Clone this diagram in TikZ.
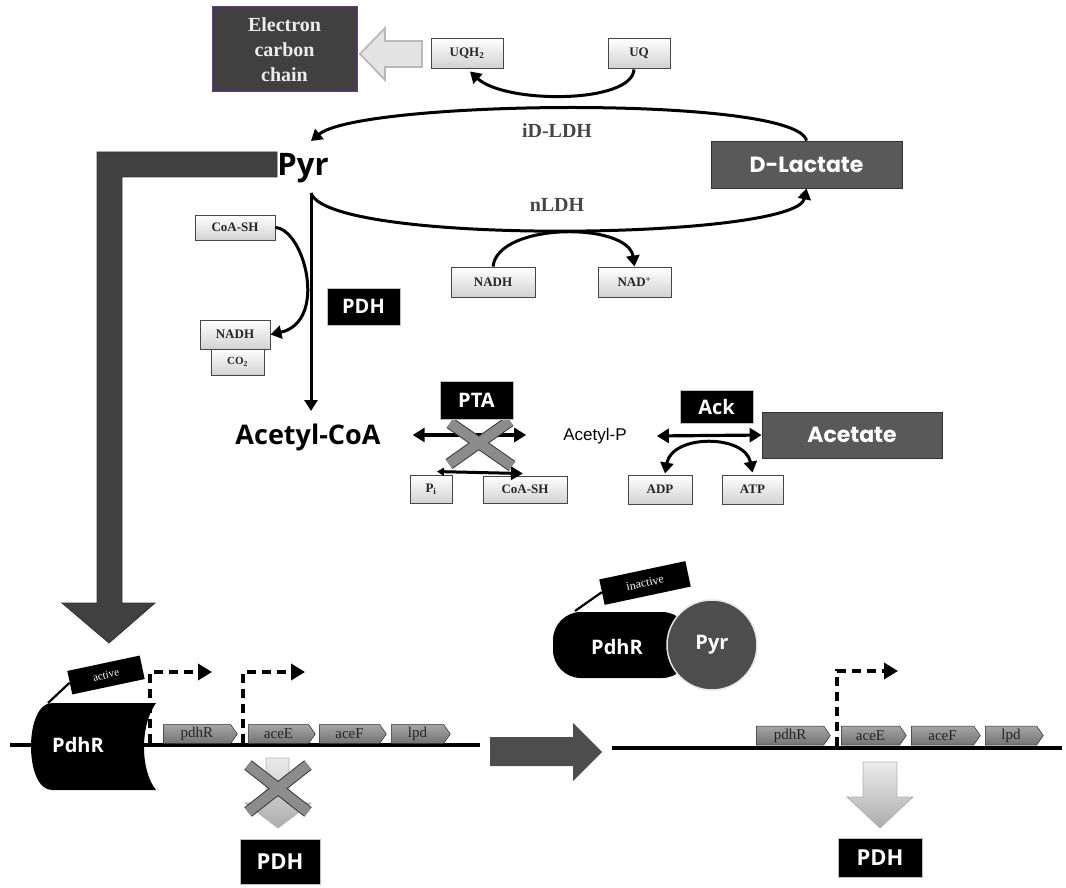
\documentclass[tikz,border=0pt]{standalone}
\usepackage{fontspec}
\setmainfont{Liberation Serif}
\newfontfamily\osans{Open Sans}
\newfontfamily\lsans{Liberation Sans}
\newfontfamily\geo{Poppins}
\usetikzlibrary{arrows.meta,shapes.symbols,shadows,calc}
\definecolor{dk}{HTML}{404040}
\definecolor{md}{HTML}{595959}
\definecolor{mc}{HTML}{4D4D4D}
\definecolor{xg}{HTML}{8C8C8C}
\definecolor{pu}{HTML}{7030A0}
\newcommand{\fsz}[2]{\fontsize{#1}{#2}\selectfont}
\begin{document}
\begin{tikzpicture}[x=1pt,y=-1pt,
 sbox/.style={draw=gray!55!black, line width=0.9, top color=white, bottom color=gray!35, inner sep=0, font=\fsz{13}{15}\bfseries, text=black!85, drop shadow={opacity=0.25, shadow xshift=1pt, shadow yshift=-1pt}},
 enz/.style={fill=black, draw=gray!50, line width=0.6, text=white, inner sep=0, font=\osans\bfseries\fsz{20}{22}},
 met/.style={fill=md, draw=gray!40!black, line width=0.8, text=white, inner sep=0, font=\geo\bfseries\fsz{22}{24}},
 gene/.style={shape=signal, signal to=east, signal pointer angle=110, top color=black!35, bottom color=black!55, draw=gray!35!black, line width=0.5, inner sep=0, minimum height=19, font=\fsz{15}{16}, text=black!85},
 rx/.style={line width=3, -{Triangle[length=11,width=13]}},
 dbl/.style={line width=3.2, {Triangle[length=12,width=14]}-{Triangle[length=12,width=14]}},
 prom/.style={line width=4.2, dash pattern=on 9 off 6, -{Triangle[length=14,width=16]}},
 lab/.style={font=\bfseries\fsz{20}{22}, text=black!72, inner sep=0},
 tag/.style={fill=black, rotate=12, text=white, inner sep=0},
 xbar/.style={line width=12, draw=gray!45!black},
 xbarin/.style={line width=10, draw=xg},
 fatdown/.style={top color=gray!15, bottom color=gray!65, draw=gray!60, line width=0.8},
]
\useasboundingbox (0,0) rectangle (1066,888);

% big L arrow
\draw[fill=dk, draw=black!80, line width=0.8] (277,152) -- (97,152) -- (97,603) -- (62,603) -- (109,643) -- (155,603) -- (122,603) -- (122,177) -- (277,177) -- cycle;

% electron carbon chain
\node[fill=dk, draw=pu, line width=1, minimum width=145, minimum height=85, text=white!92!black, font=\bfseries\fsz{20}{25}, align=center, inner sep=0] (ecc) at (284.5,49.5) {Electron\\carbon\\chain};
\draw[fill=gray!22, draw=gray!55, line width=1.8] (360,54) -- (385,28) -- (385,41) -- (422,41) -- (422,67) -- (385,67) -- (385,80) -- cycle;

\node[sbox, minimum width=72, minimum height=30] (uqh2) at (467,53) {UQH\textsubscript{2}};
\node[sbox, minimum width=62, minimum height=30] (uq) at (639,53) {UQ};
\draw[rx] ($(uq.south)+(-5,1)$) .. controls (632,104) and (505,104) .. ($(uqh2.south)+(3,3)$);

% Pyr and D-lactate
\node[font=\osans\bfseries\fsz{31}{33}, inner sep=0] (pyr) at (303,168) {Pyr};
\coordinate (pyrin) at (311,141);
\coordinate (pyrout) at (311,193);
\node[met, minimum width=191, minimum height=47] (dlac) at (806.5,164.5) {D-Lactate};
\draw[rx] (dlac.north) .. controls (796,95) and (360,100) .. (pyrin);
\draw[rx] (pyrout) .. controls (328,246) and (796,240) .. (dlac.south);
\node[lab] (idldh) at (557,131) {iD-LDH};
\node[lab] (nldh) at (557,205) {nLDH};

% PDH branch
\node[sbox, minimum width=80, minimum height=25] (coa1) at (235,227.5) {CoA-SH};
\node[sbox, minimum width=53, minimum height=26, font=\fsz{11}{12}\bfseries] (co2) at (237.5,362) {CO\textsubscript{2}};
\node[sbox, minimum width=70, minimum height=29] (nadh1) at (235,334.5) {NADH};
\draw[rx] (coa1.east) .. controls (305,230) and (328,322) .. (nadh1.east);
\node[font=\osans\bfseries\fsz{27}{29}, inner sep=0] (acoa) at (308,437) {Acetyl-CoA};
\coordinate (acoain) at (311,411);
\draw[rx] (pyrout) -- (acoain);
\node[enz, minimum width=73, minimum height=37] (pdh1) at (363.5,306.5) {PDH};

% NADH -> NAD+
\node[sbox, minimum width=84, minimum height=30] (nadh2) at (493,282) {NADH};
\node[sbox, minimum width=73, minimum height=30] (nadp) at (634.5,282) {NAD\textsuperscript{+}};
\draw[rx] (nadh2.north) .. controls (498,222) and (628,222) .. (nadp.north);

% PTA step
\node[font=\lsans\fsz{17}{19}, inner sep=0] (acp) at (595,436) {Acetyl-P};
\node[sbox, minimum width=42, minimum height=28] (pi) at (431,489) {P\textsubscript{i}};
\node[sbox, minimum width=84, minimum height=27] (coa2) at (525,489.5) {CoA-SH};
\draw[line width=3, {Triangle[length=7,width=8]}-{Triangle[length=12,width=13]}] ($(pi.north)+(6,-3)$) -- ($(coa2.north)+(-2,-2)$);
\draw[dbl] ($(acoa.east)+(32,-2)$) -- ($(acp.west)+(-37,-1)$);
\draw[xbar] (450,423) -- (512,466);
\draw[xbar] (510,421) -- (449,464);
\draw[xbarin] (450,423) -- (512,466);
\draw[xbarin] (510,421) -- (449,464);
\node[enz, minimum width=73, minimum height=38] (pta) at (476.5,400) {PTA};

% Ack step
\node[enz, minimum width=73, minimum height=33] (ack) at (716.5,406.5) {Ack};
\node[met, minimum width=180, minimum height=46] (acet) at (852,435) {Acetate};
\draw[dbl] ($(acp.east)+(30,0)$) -- (acet.west);
\node[sbox, minimum width=64, minimum height=29] (adp) at (660,489.5) {ADP};
\node[sbox, minimum width=61, minimum height=29] (atp) at (752.5,489.5) {ATP};
\draw[line width=3, {Triangle[length=11,width=13]}-{Triangle[length=11,width=13]}] ($(adp.north)+(5,-1)$) .. controls (672,434) and (745,434) .. ($(atp.north)+(0,-2)$);

% ---------- bottom left: active PdhR ----------
\draw[line width=4.5] (10,745) -- (480,745);
\fill[black] (52,703) -- (156,703) .. controls (140,725) and (140,770) .. (156,790) -- (52,790) .. controls (24,790) and (24,703) .. (52,703) -- cycle;
\node[text=white, font=\osans\bfseries\fsz{20}{22}, inner sep=0] (pdhr1) at (78,745) {PdhR};
\node[tag, minimum width=74, minimum height=24, font=\fsz{11}{12}] (act) at (106,675) {active};
\draw[line width=2.2] (48,703) -- (act.west);
\draw[prom] (150,743) -- (150,672) -- (212,672);
\draw[prom] (243,743) -- (243,672) -- (305,672);
\node[gene, minimum width=74] (g1) at (197,734) {pdhR};
\node[gene, minimum width=67] (g2) at (278.5,734) {aceE};
\node[gene, minimum width=67] (g3) at (349.5,734) {aceF};
\node[gene, minimum width=59] (g4) at (417.5,734) {lpd};
\draw[fatdown] (266,758) -- (289,758) -- (289,803) -- (311,803) -- (278,828) -- (245,803) -- (266,803) -- cycle;
\draw[xbar] (248,765) -- (308,812);
\draw[xbar] (308,765) -- (248,812);
\draw[xbarin] (248,765) -- (308,812);
\draw[xbarin] (308,765) -- (248,812);
\node[enz, minimum width=80, minimum height=45, font=\osans\bfseries\fsz{22}{24}] (pdh2) at (280,862) {PDH};

% transition arrow
\fill[mc] (490,737) -- (573,737) -- (573,723) -- (602,752) -- (573,781) -- (573,766) -- (490,766) -- cycle;

% ---------- right: inactive PdhR ----------
\fill[black, rounded corners=28] (553,612) rectangle (690,678);
\node[circle, fill=mc, draw=white!80!gray, line width=1.5, minimum size=90, inner sep=0, text=white, font=\osans\bfseries\fsz{20}{22}] (pyrc) at (712,645) {Pyr};
\node[text=white, font=\osans\bfseries\fsz{20}{22}, inner sep=0] (pdhr2) at (617,647) {PdhR};
\node[tag, minimum width=88, minimum height=26, font=\fsz{12}{13}] (inact) at (645,583) {inactive};
\draw[line width=2.2] (575,611) -- (inact.west);

\draw[line width=4.5] (612,748) -- (1062,748);
\draw[prom] (837,746) -- (837,671) -- (898,671);
\node[gene, minimum width=74] (h1) at (790,735.5) {pdhR};
\node[gene, minimum width=65] (h2) at (870.5,735.5) {aceE};
\node[gene, minimum width=69] (h3) at (942.5,735.5) {aceF};
\node[gene, minimum width=58] (h4) at (1011,735.5) {lpd};
\draw[fatdown] (863,762) -- (897,762) -- (897,797) -- (913,797) -- (880,828) -- (847,797) -- (863,797) -- cycle;
\node[enz, minimum width=84, minimum height=39, font=\osans\bfseries\fsz{22}{24}] (pdh3) at (880,857.5) {PDH};
\end{tikzpicture}
\end{document}
